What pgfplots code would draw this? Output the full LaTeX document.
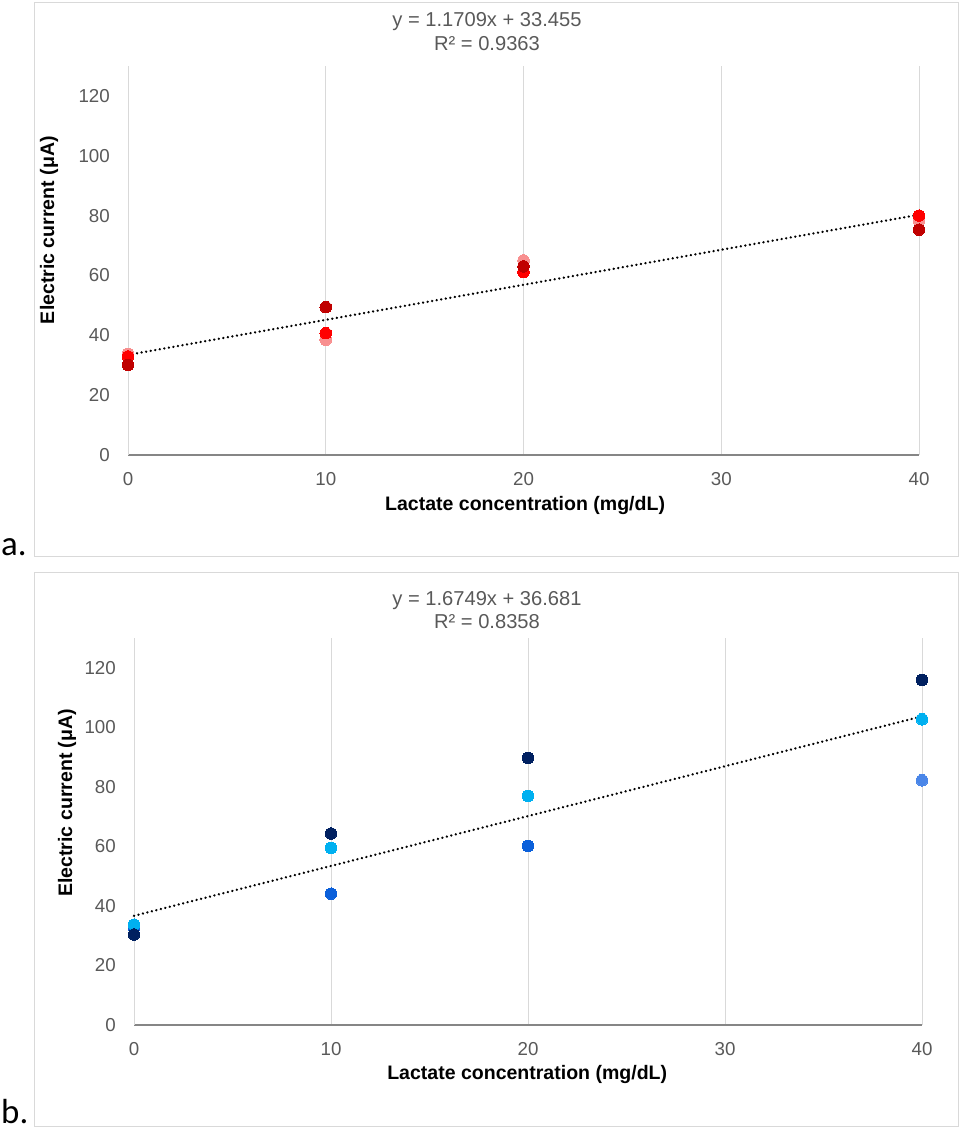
\documentclass[border=0pt]{standalone}
\usepackage{fontspec}
\setmainfont{Liberation Sans}
\newfontfamily\calibri{Carlito}
\usepackage{pgfplots}
\pgfplotsset{compat=1.18}
\definecolor{gridc}{HTML}{D9D9D9}
\definecolor{axc}{HTML}{868686}
\definecolor{tickc}{HTML}{595959}
\definecolor{dred}{HTML}{C00000}
\definecolor{mred}{HTML}{FF0000}
\definecolor{lred}{HTML}{F88F8F}
\definecolor{navy}{HTML}{002060}
\definecolor{lblue}{HTML}{00B0F0}
\definecolor{mblue}{HTML}{0B60DA}
\definecolor{pblue}{HTML}{4A86E8}
\pgfplotsset{
 panel/.style={
  scale only axis, clip=false,
  xmin=0,xmax=40,ymin=0,ymax=130,
  xtick={0,10,20,30,40}, ytick={0,20,40,60,80,100,120},
  axis x line*=bottom, axis y line*=left,
  x axis line style={draw=axc, line width=1.5bp, -},
  y axis line style={draw=gridc, line width=1bp, -},
  xmajorgrids, major grid style={draw=gridc, line width=1bp},
  major tick length=0pt,
  tick label style={font=\fontsize{18.8}{22}\selectfont, text=tickc},
  /pgf/number format/assume math mode=true,
  xticklabel style={anchor=north, inner sep=0pt, yshift=-17bp},
  yticklabel style={anchor=east, inner sep=0pt, xshift=-18bp},
  label style={font=\bfseries\fontsize{19.6}{23}\selectfont},
 },
 dot/.style={only marks, color=#1, mark=*, mark size=5.8bp, mark options={draw=#1, fill=#1, line width=0pt}},
 trend/.style={black, line width=2.6bp, line cap=round, dash pattern=on 0.01bp off 4.6bp},
}
\begin{document}
\begin{tikzpicture}[x=1bp,y=1bp]
\useasboundingbox (0,0) rectangle (960,1131);
\draw[gridc, line width=1bp] (34,574) rectangle (958,1128);
\draw[gridc, line width=1bp] (34,4) rectangle (958,558);
\node[anchor=base west, inner sep=0pt, font=\calibri\fontsize{35}{40}\selectfont] at (1,575) {a.};
\node[anchor=base west, inner sep=0pt, font=\calibri\fontsize{35}{40}\selectfont] at (1,7) {b.};
\node[font=\fontsize{20.2}{23}\selectfont, text=tickc] at (487,1109) {y = 1.1709x + 33.455};
\node[font=\fontsize{20.2}{23}\selectfont, text=tickc] at (487,1087) {R² = 0.9363};
\node[font=\fontsize{20.2}{23}\selectfont, text=tickc] at (487,530) {y = 1.6749x + 36.681};
\node[font=\fontsize{20.2}{23}\selectfont, text=tickc] at (487,509) {R² = 0.8358};

\begin{axis}[panel, at={(128bp,676bp)}, anchor=south west, width=791bp, height=389bp,
  xlabel={Lactate concentration (mg/dL)}, ylabel={Electric current (μA)},
  xlabel style={at={(axis description cs:0.502,-0.131)}, anchor=center},
  ylabel style={at={(axis description cs:-0.0999,0.578)}, anchor=center, rotate=0}]
\addplot[dot=lred] coordinates {(0,33.8) (10,38.5) (20,65.0) (40,78.4)};
\addplot[dot=mred] coordinates {(0,32.9) (10,40.7) (20,61.1) (40,80.0)};
\addplot[dot=dred] coordinates {(0,30.1) (10,49.4) (20,63.0) (40,75.3)};
\addplot[trend] coordinates {(0,33.455) (40,80.291)};
\end{axis}

\begin{axis}[panel, at={(134bp,106bp)}, anchor=south west, width=788bp, height=387bp,
  xlabel={Lactate concentration (mg/dL)}, ylabel={Electric current (μA)},
  xlabel style={at={(axis description cs:0.499,-0.129)}, anchor=center},
  ylabel style={at={(axis description cs:-0.085,0.574)}, anchor=center, rotate=0}]
\addplot[dot=mblue] coordinates {(0,32.8) (10,44.1) (20,60.1)};
\addplot[dot=pblue] coordinates {(40,82.2)};
\addplot[dot=lblue] coordinates {(0,33.7) (10,59.5) (20,76.9) (40,102.7)};
\addplot[dot=navy] coordinates {(0,30.4) (10,64.3) (20,89.7) (40,115.9)};
\addplot[trend] coordinates {(0,36.681) (40,103.677)};
\end{axis}
\end{tikzpicture}
\end{document}
